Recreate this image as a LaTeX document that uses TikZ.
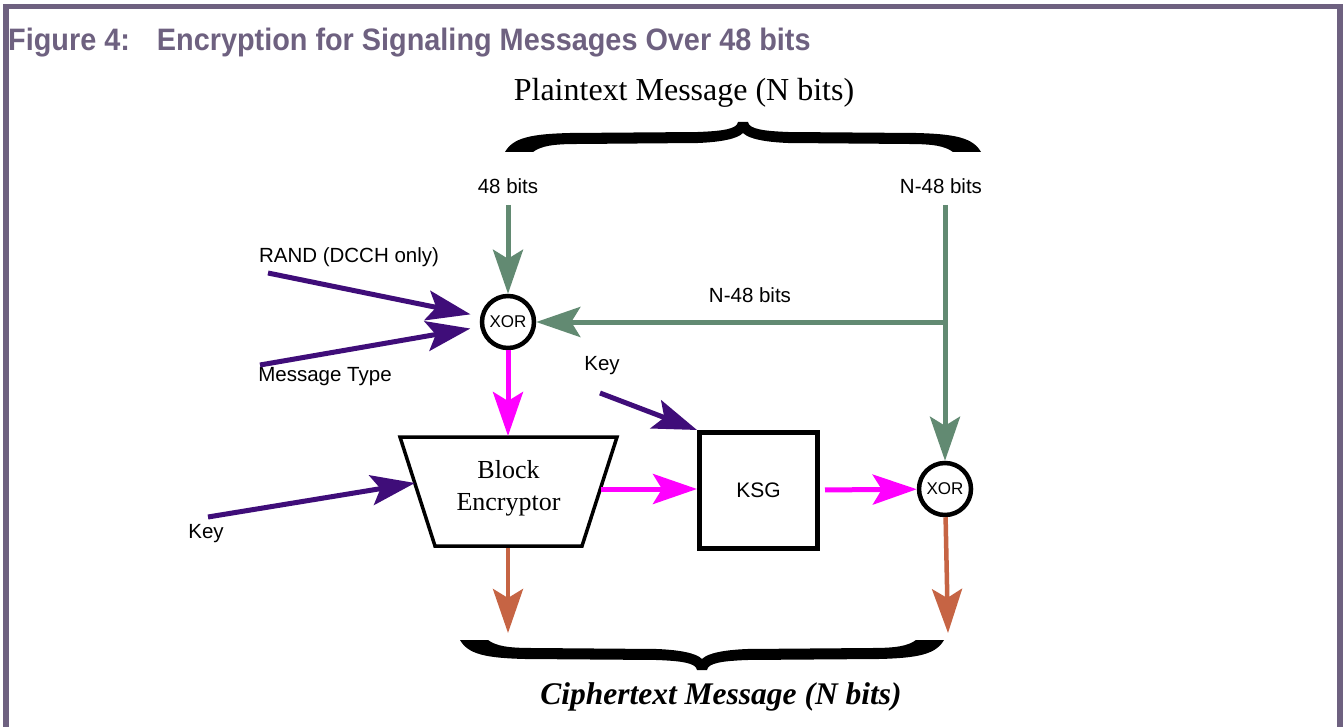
\documentclass[tikz,border=0pt]{standalone}
\usepackage{fontspec}
\setmainfont{Liberation Serif}
\setsansfont{Liberation Sans}
\newfontfamily\titlefont{Liberation Sans}[FakeStretch=0.93]
\usetikzlibrary{arrows.meta}
\definecolor{framec}{HTML}{6E6180}
\definecolor{greenc}{HTML}{628A72}
\definecolor{purplec}{HTML}{3F0D79}
\definecolor{magc}{HTML}{FF00FF}
\definecolor{brownc}{HTML}{C66444}
\newcommand{\mybracefill}[1]{%
  \fill (-#1,30) .. controls ({-#1+8},16) and ({-#1+25},12) .. ({-#1+65},11)
    -- (-45,10) .. controls (-20,9) and (-6,7) .. (-5,0) -- (5,0)
    .. controls (6,7) and (20,9) .. (45,10) -- ({#1-65},11)
    .. controls ({#1-25},12) and ({#1-8},16) .. (#1,30) -- ({#1-28},30)
    .. controls ({#1-36},24) and ({#1-48},22) .. ({#1-72},22) -- (45,21)
    .. controls (22,20) and (6,17) .. (0,11) .. controls (-6,17) and (-22,20) .. (-45,21)
    -- ({-#1+72},22) .. controls ({-#1+48},22) and ({-#1+36},24) .. ({-#1+28},30) -- cycle;}
\begin{document}
\begin{tikzpicture}[x=1pt,y=-1pt,
  tip/.style={-{Stealth[length=44pt,width=30pt,inset=9pt]}},
  garr/.style={tip,draw=greenc,fill=greenc,line width=5pt},
  parr/.style={tip,draw=purplec,fill=purplec,line width=5pt},
  marr/.style={tip,draw=magc,fill=magc,line width=5pt},
  barr/.style={tip,draw=brownc,fill=brownc,line width=4.5pt},
  sanslab/.style={inner sep=0pt,font=\sffamily\fontsize{20.5}{24}\selectfont},
  xorc/.style={circle,draw,line width=4.5pt,minimum size=52pt,inner sep=0pt,fill=white,
    font=\sffamily\fontsize{17}{20}\selectfont},
]
\useasboundingbox (0,0) rectangle (1343,727);
\fill[white] (0,0) rectangle (1343,727);
% frame
\fill[framec] (3,4) rectangle (1343,9);
\fill[framec] (3,4) rectangle (9,727);
\fill[framec] (1337,4) rectangle (1343,727);
\node[anchor=base west,inner sep=0pt,text=framec,font=\titlefont\bfseries\fontsize{31}{36}\selectfont] (title) at (8,51)
  {Figure 4:\hspace{27pt}Encryption for Signaling Messages Over 48 bits};
% top
\node[inner sep=0pt,font=\fontsize{32}{37}\selectfont] (ptext) at (684,93) {Plaintext Message (N bits)};
\begin{scope}[shift={(743,122)}]
  \mybracefill{238}
\end{scope}
\node[sanslab] (l48) at (508,186) {48 bits};
\node[sanslab] (lN48) at (941,186) {N-48 bits};
\node[xorc] (x1) at (508,322) {XOR};
\node[xorc] (x2) at (945,489) {XOR};
\coordinate (g1s) at (508,205);
\coordinate (g2s) at (945,205);
\coordinate (gj) at (945,322);
\draw[garr] (g1s) -- (x1);
\draw[garr] (g2s) -- (x2);
\draw[garr] (gj) -- (x1);
\node[sanslab] (lmid) at (750,295) {N-48 bits};
% purple inputs
\node[sanslab] (lrand) at (349,257) {RAND (DCCH only)};
\node[sanslab] (lmt) at (325,377) {Message Type};
\coordinate (rs) at (268,273);
\coordinate (ms) at (260,365);
\draw[parr,shorten >=10pt] (rs) -- (x1);
\draw[parr,shorten >=10pt] (ms) -- (x1);
% block encryptor
\coordinate (tl) at (400,437);
\coordinate (tr) at (617,437);
\coordinate (br) at (582,546);
\coordinate (bl) at (435,546);
\draw[line width=3.5pt,line join=miter] (tl) -- (tr) -- (br) -- (bl) -- cycle;
\node[align=center,inner sep=0pt,font=\fontsize{26}{32}\selectfont] (be) at (508.5,488) {Block\\Encryptor};
\coordinate (betop) at (508,436);
\coordinate (beright) at (601,489);
\coordinate (beleft) at (415,483);
\coordinate (bebot) at (508,548);
\draw[marr] (x1) -- (betop);
% KSG
\node[draw,line width=5pt,minimum width=118pt,minimum height=116pt,inner sep=0pt,
  font=\sffamily\fontsize{21}{25}\selectfont] (ksg) at (758.5,490.5) {KSG};
\draw[marr] (beright) -- (ksg.west |- beright);
\draw[marr,shorten <=5pt] (ksg) -- (x2);
% keys
\node[sanslab] (lkey2) at (602,366) {Key};
\coordinate (k2s) at (600,393);
\draw[parr] (k2s) -- (ksg.north west);
\node[sanslab] (lkey1) at (206,534) {Key};
\coordinate (k1s) at (208,517);
\draw[parr] (k1s) -- (beleft);
% outputs
\coordinate (b1e) at (508,633);
\coordinate (b2e) at (948,633);
\draw[barr] (bebot) -- (b1e);
\draw[barr] (x2) -- (b2e);
\begin{scope}[shift={(702,670)},yscale=-1]
  \mybracefill{242}
\end{scope}
\node[inner sep=0pt,font=\bfseries\itshape\fontsize{31.5}{37}\selectfont] (ctext) at (721,697) {Ciphertext Message (N bits)};
\end{tikzpicture}
\end{document}
